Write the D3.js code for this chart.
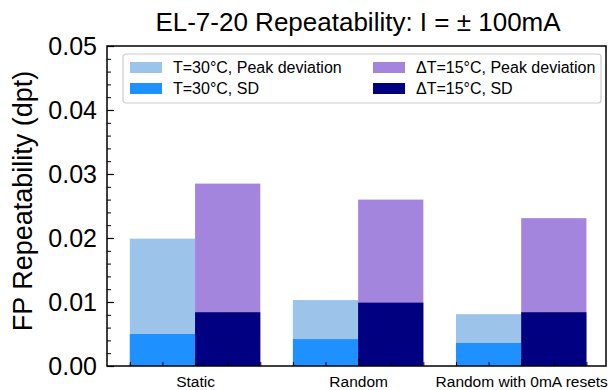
<!DOCTYPE html>
<html>
<head>
<meta charset="utf-8">
<script src="https://cdn.jsdelivr.net/npm/d3@7"></script>
<style>
  body { margin: 0; background: #fff; }
  text { font-family: "Liberation Sans", Arial, sans-serif; fill: #000; }
</style>
</head>
<body>
<div id="chart"></div>
<script>
const categories = ['Static', 'Random', 'Random with 0mA resets'];
const t30Peak = [0.0199, 0.0103, 0.0081];
const t30SD = [0.0050, 0.0042, 0.0036];
const dt15Peak = [0.0285, 0.0260, 0.0231];
const dt15SD = [0.0084, 0.0099, 0.0084];
const yTicks = [0, 0.01, 0.02, 0.03, 0.04, 0.05];
const legendLabels = ['T=30°C, Peak deviation', 'T=30°C, SD', 'ΔT=15°C, Peak deviation', 'ΔT=15°C, SD'];

const colors = { t30Peak: '#9cc3ea', t30SD: '#1e90ff', dt15Peak: '#a385de', dt15SD: '#000080' };

const W = 608, H = 390;
const margin = { top: 46, right: 2, bottom: 24, left: 107 };
const width = W - margin.left - margin.right;
const height = H - margin.top - margin.bottom;
const barW = 0.4;

const svg = d3.select('#chart').append('svg')
  .attr('width', W)
  .attr('height', H);

const g = svg.append('g')
  .attr('transform', `translate(${margin.left}, ${margin.top})`);

const x = d3.scaleLinear().domain([-0.54, 2.52]).range([0, width]);
const y = d3.scaleLinear().domain([0, 0.05]).range([height, 0]);

// bars: peak drawn first, SD on top (both from zero)
const series = [
  { vals: t30Peak, off: -barW, color: colors.t30Peak },
  { vals: t30SD, off: -barW, color: colors.t30SD },
  { vals: dt15Peak, off: 0, color: colors.dt15Peak },
  { vals: dt15SD, off: 0, color: colors.dt15SD }
];

series.forEach(s => {
  g.append('g')
    .selectAll('rect')
    .data(s.vals)
    .join('rect')
    .attr('x', (d, i) => x(i + s.off))
    .attr('width', x(barW) - x(0))
    .attr('y', d => y(d))
    .attr('height', d => y(0) - y(d))
    .attr('fill', s.color);
});

// y axis
const yAxis = g.append('g')
  .call(d3.axisLeft(y).tickValues(yTicks).tickFormat(d3.format('.2f')).tickSize(-7).tickPadding(10));
yAxis.select('.domain').remove();
yAxis.selectAll('text').style('font-size', '25px');
yAxis.selectAll('line').attr('stroke-width', 1.2);

const yMinor = d3.range(0, 0.0501, 0.002).filter(v => Math.abs(v * 100 - Math.round(v * 100)) > 1e-6);
g.append('g')
  .call(d3.axisLeft(y).tickValues(yMinor).tickSize(-4).tickFormat(''))
  .call(a => a.select('.domain').remove())
  .selectAll('line').attr('stroke-width', 1);

// x axis
const xAxis = g.append('g')
  .attr('transform', `translate(0, ${height})`)
  .call(d3.axisBottom(x).tickValues([0, 1, 2]).tickFormat((d, i) => categories[i]).tickSize(-7).tickPadding(10));
xAxis.select('.domain').remove();
xAxis.selectAll('text').style('font-size', '15.5px');
xAxis.selectAll('line').attr('stroke-width', 1.2);

const xMinor = d3.range(-0.4, 2.41, 0.2).filter(v => Math.abs(v - Math.round(v)) > 1e-6);
g.append('g')
  .attr('transform', `translate(0, ${height})`)
  .call(d3.axisBottom(x).tickValues(xMinor).tickSize(-4).tickFormat(''))
  .call(a => a.select('.domain').remove())
  .selectAll('line').attr('stroke-width', 1);

// frame
g.append('rect')
  .attr('width', width)
  .attr('height', height)
  .attr('fill', 'none')
  .attr('stroke', '#000')
  .attr('stroke-width', 1.5);

// legend
const legend = g.append('g').attr('transform', 'translate(16, 8)');
legend.append('rect')
  .attr('width', 478).attr('height', 49)
  .attr('rx', 3)
  .attr('fill', 'rgba(255,255,255,0.85)')
  .attr('stroke', '#cccccc')
  .attr('stroke-width', 1.2);

const legendColors = [colors.t30Peak, colors.t30SD, colors.dt15Peak, colors.dt15SD];
legendLabels.forEach((lab, i) => {
  const col = Math.floor(i / 2), row = i % 2;
  const item = legend.append('g')
    .attr('transform', `translate(${7 + col * 243}, ${8 + row * 21})`);
  item.append('rect').attr('width', 32).attr('height', 11).attr('fill', legendColors[i]);
  item.append('text')
    .attr('x', 43).attr('y', 11)
    .style('font-size', '16px')
    .text(lab);
});

// title
svg.append('text')
  .attr('x', 358)
  .attr('y', 31)
  .attr('text-anchor', 'middle')
  .style('font-size', '26px')
  .text('EL-7-20 Repeatability: I = ± 100mA');

// y label
svg.append('text')
  .attr('transform', `translate(32, 201) rotate(-90)`)
  .attr('text-anchor', 'middle')
  .style('font-size', '27px')
  .text('FP Repeatability (dpt)');
</script>
</body>
</html>
